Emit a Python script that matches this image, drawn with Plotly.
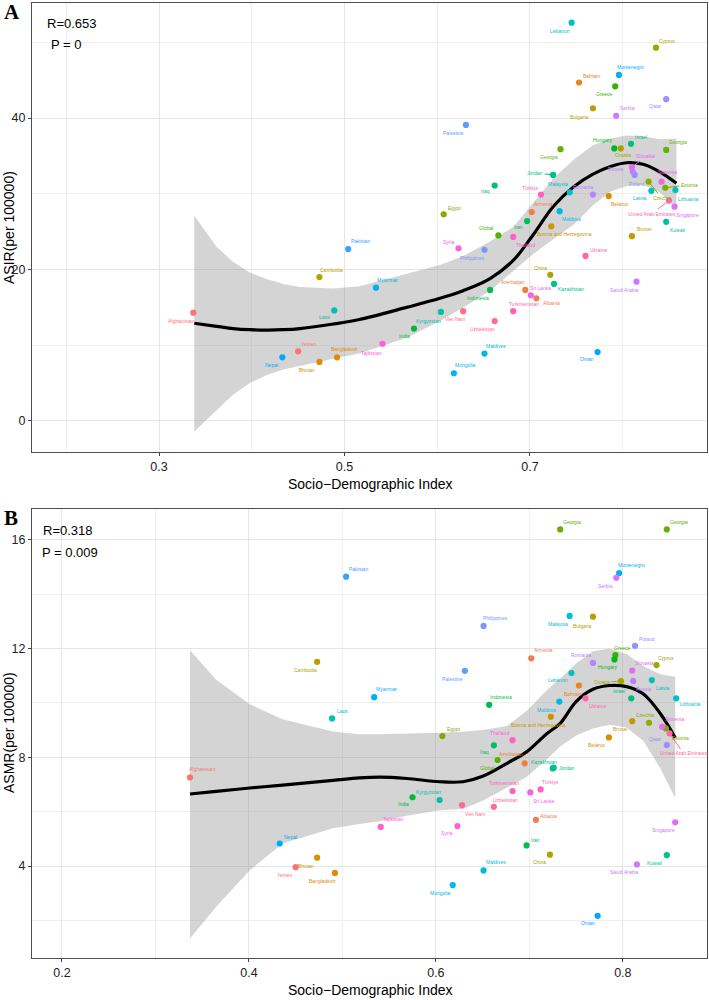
import math
import plotly.graph_objects as go

# ---------------- data ----------------
countries = ["Afghanistan", "Albania", "Armenia", "Azerbaijan", "Bahrain", "Bangladesh", "Belarus",
             "Bhutan", "Bosnia and Herzegovina", "Brunei", "Bulgaria", "Cambodia", "China", "Croatia",
             "Cyprus", "Czechia", "Egypt", "Estonia", "Georgia", "Georgia", "Global", "Greece", "Hungary",
             "India", "Indonesia", "Iran", "Iraq", "Israel", "Jordan", "Kazakhstan", "Kuwait", "Kyrgyzstan",
             "Laos", "Latvia", "Lebanon", "Lithuania", "Malaysia", "Maldives", "Moldova", "Mongolia",
             "Montenegro", "Myanmar", "Nepal", "Oman", "Pakistan", "Palestine", "Philippines", "Poland",
             "Qatar", "Romania", "Russia", "Saudi Arabia", "Serbia", "Singapore", "Slovakia", "Slovenia",
             "Sri Lanka", "Syria", "Tajikistan", "Thailand", "Türkiye", "Turkmenistan", "Ukraine",
             "United Arab Emirates", "Uzbekistan", "Viet Nam", "Yemen"]

sdi = [0.337, 0.707, 0.702, 0.695, 0.753, 0.492, 0.785,
       0.473, 0.723, 0.810, 0.768, 0.473, 0.722, 0.798,
       0.836, 0.828, 0.607, 0.846, 0.733, 0.847, 0.666, 0.792, 0.791,
       0.575, 0.657, 0.697, 0.662, 0.809, 0.725, 0.726, 0.847, 0.604,
       0.489, 0.831, 0.745, 0.857, 0.743, 0.651, 0.732, 0.618,
       0.796, 0.534, 0.433, 0.773, 0.504, 0.631, 0.651, 0.813,
       0.847, 0.768, 0.811, 0.815, 0.793, 0.856, 0.810, 0.842,
       0.701, 0.623, 0.541, 0.682, 0.712, 0.682, 0.760,
       0.850, 0.662, 0.628, 0.450]

asir = [14.3, 16.2, 27.6, 17.3, 44.7, 8.4, 29.7,
        7.8, 25.7, 24.4, 41.3, 19.0, 19.3, 36.0,
        49.3, 31.6, 27.3, 30.8, 35.9, 35.8, 24.5, 44.2, 36.0,
        12.2, 17.3, 26.4, 31.1, 36.6, 32.5, 18.1, 26.3, 14.4,
        14.6, 30.4, 52.6, 30.5, 30.2, 8.9, 27.7, 6.3,
        45.7, 17.6, 8.4, 9.1, 22.7, 39.1, 22.6, 32.5,
        42.5, 29.9, 32.9, 18.4, 40.3, 28.3, 33.5, 31.6,
        16.6, 22.8, 10.2, 24.3, 29.9, 14.5, 21.8,
        29.1, 13.2, 14.5, 9.2]

asmr = [7.26, 5.70, 11.64, 7.78, 10.64, 3.75, 8.73,
        4.31, 9.49, 9.33, 13.17, 11.51, 4.42, 10.80,
        11.39, 9.27, 8.78, 9.06, 16.38, 16.38, 7.90, 11.76, 11.60,
        6.53, 9.93, 4.76, 8.44, 10.17, 7.59, 7.62, 4.40, 6.43,
        9.43, 10.84, 11.10, 10.17, 13.20, 3.84, 10.05, 3.30,
        14.77, 10.21, 4.83, 2.17, 14.64, 11.18, 12.83, 12.10,
        8.45, 11.47, 10.81, 4.06, 14.60, 5.61, 11.19, 9.12,
        6.71, 5.47, 5.44, 8.63, 6.82, 6.76, 10.17,
        8.88, 6.18, 6.24, 3.96]

# loess fit + 95% CI
fitA_x = [0.338, 0.362, 0.380, 0.398, 0.417, 0.434, 0.452, 0.488, 0.516, 0.567, 0.603, 0.628,
          0.657, 0.682, 0.703, 0.725, 0.747, 0.768, 0.787, 0.804, 0.822, 0.840, 0.858]
fitA_y = [12.9, 12.5, 12.2, 12.05, 12.0, 12.05, 12.2, 12.8, 13.4, 15.0, 16.2, 17.2,
          18.8, 21.2, 24.5, 28.3, 30.9, 32.6, 33.6, 34.1, 33.9, 32.9, 31.4]
fitA_hi = [27.1, 23.0, 21.0, 19.6, 18.7, 18.1, 17.7, 17.5, 17.8, 19.5, 20.6, 21.8,
           23.7, 25.6, 28.8, 32.0, 34.5, 36.4, 37.3, 37.7, 37.6, 37.2, 37.3]
fitA_lo = [-1.4, 1.4, 3.5, 5.0, 6.1, 6.8, 7.3, 8.2, 8.9, 11.0, 13.2, 15.0,
           17.2, 19.8, 22.0, 24.0, 25.9, 28.5, 30.3, 31.0, 31.2, 30.2, 28.2]

fitB_x = [0.337, 0.365, 0.401, 0.436, 0.490, 0.518, 0.540, 0.569, 0.604, 0.629, 0.650, 0.676,
          0.697, 0.718, 0.733, 0.750, 0.768, 0.786, 0.804, 0.822, 0.840, 0.856]
fitB_y = [6.65, 6.75, 6.87, 6.98, 7.15, 7.24, 7.27, 7.22, 7.10, 7.10, 7.30, 7.78,
          8.20, 8.85, 9.25, 10.05, 10.50, 10.64, 10.60, 10.33, 9.61, 8.72]
fitB_hi = [11.94, 10.85, 9.95, 9.4, 8.95, 8.85, 8.85, 8.87, 8.90, 8.94, 9.0, 9.15,
           9.7, 10.45, 10.9, 11.45, 11.9, 12.0, 11.8, 11.35, 11.05, 10.96]
fitB_lo = [1.34, 2.5, 3.85, 4.83, 5.39, 5.55, 5.65, 5.85, 6.05, 6.1, 6.4, 6.9,
           7.28, 7.9, 8.4, 8.8, 9.06, 9.2, 9.1, 8.6, 7.6, 6.5]

statsA = ["R=0.653", "P = 0"]
statsB = ["R=0.318", "P = 0.009"]

# ---------------- label placement (pixel offsets: dx right, dy down; L = leader line) ----------------
offA = [(-12, 8), (15, 5), (12, -8), (-12, -8), (12, -7), (7, -8), (11, 8),
        (-12, 8), (13, 8), (12, -7), (-13, 9), (12, -7), (-10, -7), (2, 7),
        (11, -7), (13, 16, "L"), (11, -6), (24, -3, "L"), (-12, 8), (12, -8), (-12, -7), (-11, 8), (-12, -8),
        (-10, 7), (-12, 8), (-9, 6), (-9, 6), (10, -7), (-18, -2, "L"), (17, 5), (12, 8), (-12, 9),
        (-10, 7), (-11, 7), (-12, 8), (13, 9), (-12, -8), (12, -8), (12, 8), (12, -8),
        (12, -8), (12, -8), (-11, 8), (-11, 7), (12, -8), (-12, 8), (-12, 8), (2, 9),
        (-11, 7), (-10, -8), (-17, -3), (-12, 8), (11, -8), (13, 8), (14, -11, "L"), (6, -10),
        (10, -7), (-10, -6), (-11, 9), (12, 8), (-11, -7), (11, -7), (13, -6),
        (-17, 13, "L"), (-12, 8), (-8, 8), (11, -7)]

offB = [(12, -8), (13, -4), (12, -8), (-14, -9), (-6, 8), (-12, 8), (-12, 8),
        (-11, 8), (-12, 8), (-12, 8), (-10, 9), (-12, 8), (-10, 7), (-19, 1, "L"),
        (9, -7), (-4, -8), (11, -7), (15, 10), (12, -7), (12, -7), (-11, 8), (7, -7), (-7, 8),
        (-9, 7), (12, -8), (9, -5), (-9, 7), (-12, -7), (14, 0), (-10, -6), (-12, 8), (-11, -8),
        (10, -7), (11, 8), (-13, 7), (14, 6), (-12, 8), (12, -8), (-13, 8), (-12, 8),
        (12, -8), (12, -8), (11, -7), (-10, 7), (12, -8), (-12, 8), (12, -8), (12, -7),
        (-11, -6), (-12, -8), (11, 8), (-12, 8), (-11, 8), (-12, 8), (12, -8), (12, -8),
        (13, 9), (-10, 7), (13, -8), (-13, -7), (10, -7), (-9, -8), (12, 8),
        (14, 20, "L"), (12, -7), (13, 9), (-11, 8)]


# ---------------- ggplot2 hue palette ----------------
def hcl_to_hex(h, c=100.0, l=65.0):
    hr = math.radians(h)
    u, v = c * math.cos(hr), c * math.sin(hr)
    Y = ((l + 16) / 116) ** 3
    xn, yn, zn = 0.95047, 1.0, 1.08883
    den = xn + 15 * yn + 3 * zn
    un, vn = 4 * xn / den, 9 * yn / den
    up, vp = u / (13 * l) + un, v / (13 * l) + vn
    X = Y * 9 * up / (4 * vp)
    Z = Y * (12 - 3 * up - 20 * vp) / (4 * vp)
    rgb = [3.2404542 * X - 1.5371385 * Y - 0.4985314 * Z,
           -0.9692660 * X + 1.8760108 * Y + 0.0415560 * Z,
           0.0556434 * X - 0.2040259 * Y + 1.0572252 * Z]
    out = []
    for ch in rgb:
        ch = 12.92 * ch if ch <= 0.0031308 else 1.055 * ch ** (1 / 2.4) - 0.055
        out.append(int(round(max(0, min(1, ch)) * 255)))
    return "#%02X%02X%02X" % tuple(out)


levels = []
for c in countries:
    if c not in levels:
        levels.append(c)
n = len(levels)
pal = {lev: hcl_to_hex(15 + i * 360 / n) for i, lev in enumerate(levels)}
colors = [pal[c] for c in countries]

# ---------------- figure ----------------
W, H = 709, 1000
ML, MR, MT, MB = 32, 2, 3, 42
PW, PH = W - ML - MR, H - MT - MB


def px(xp):
    return (xp - ML) / PW


def py(yp):
    return (H - MB - yp) / PH


fig = go.Figure()

panels = [
    ("x", "y", asir, fitA_x, fitA_y, fitA_lo, fitA_hi, offA),
    ("x2", "y2", asmr, fitB_x, fitB_y, fitB_lo, fitB_hi, offB),
]

LABEL_FONT = "Liberation Sans, Arial"
annotations = []
for xa, ya, yvals, fx, fy, flo, fhi, offs in panels:
    fig.add_trace(go.Scatter(x=fx + fx[::-1], y=fhi + flo[::-1], fill="toself",
                             fillcolor="rgba(153,153,153,0.42)", line=dict(width=0),
                             mode="lines", hoverinfo="skip", showlegend=False, xaxis=xa, yaxis=ya))
    fig.add_trace(go.Scatter(x=fx, y=fy, mode="lines", line=dict(color="black", width=3.2, shape="spline"),
                             showlegend=False, xaxis=xa, yaxis=ya))
    fig.add_trace(go.Scatter(x=sdi, y=yvals, mode="markers",
                             marker=dict(color=colors, size=6.2, line=dict(width=0)),
                             text=countries, showlegend=False, xaxis=xa, yaxis=ya))
    for i, name in enumerate(countries):
        o = offs[i]
        common = dict(x=sdi[i], y=yvals[i], xref=xa, yref=ya, text=name,
                      font=dict(size=5, color=colors[i], family=LABEL_FONT))
        if len(o) == 3:
            annotations.append(dict(**common, showarrow=True, arrowhead=0, arrowwidth=1,
                                    arrowcolor=colors[i], ax=o[0], ay=o[1], standoff=2))
        else:
            annotations.append(dict(**common, showarrow=False, xanchor="center", yanchor="middle",
                                    xshift=o[0], yshift=-o[1]))

MAIN_FONT = "Liberation Sans, Arial"


def paper_text(xp, yp, txt, size, family=MAIN_FONT, xanchor="center", angle=0, color="black"):
    return dict(x=px(xp), y=py(yp), xref="paper", yref="paper", text=txt, showarrow=False,
                xanchor=xanchor, yanchor="middle", textangle=angle,
                font=dict(size=size, family=family, color=color))


# panel letters
annotations.append(paper_text(11.5, 12, "<b>A</b>", 21, family="Liberation Serif, Times New Roman"))
annotations.append(paper_text(10.5, 518, "<b>B</b>", 21, family="Liberation Serif, Times New Roman"))
# stats text
for txt, (lx, ly) in zip(statsA, [(45, 24), (49, 44)]):
    annotations.append(paper_text(lx, ly, txt, 13, xanchor="left"))
for txt, (lx, ly) in zip(statsB, [(41, 530), (40, 552)]):
    annotations.append(paper_text(lx, ly, txt, 13, xanchor="left"))
# axis titles
annotations.append(paper_text(370, 484, "Socio\u2212Demographic Index", 14))
annotations.append(paper_text(370, 990, "Socio\u2212Demographic Index", 14))
annotations.append(paper_text(9, 228, "ASIR(per 100000)", 14, angle=-90))
annotations.append(paper_text(9, 733, "ASMR(per 100000)", 14, angle=-90))

ax_common = dict(showline=True, mirror=True, linecolor="#4D4D4D", linewidth=1.1,
                 ticks="outside", ticklen=3, tickcolor="#444444", tickwidth=1,
                 showgrid=True, gridcolor="#E6E6E6", gridwidth=1.1, zeroline=False,
                 tickfont=dict(size=12.5, family=MAIN_FONT, color="#222222"))

fig.update_layout(
    width=W, height=H, margin=dict(l=ML, r=MR, t=MT, b=MB),
    paper_bgcolor="white", plot_bgcolor="white", showlegend=False,
    annotations=annotations,
    xaxis=dict(**ax_common, domain=[0, 1], range=[0.163, 0.891], tick0=0.3, dtick=0.2, anchor="y",
               minor=dict(dtick=0.1, showgrid=True, gridcolor="#EFEFEF", gridwidth=0.7)),
    yaxis=dict(**ax_common, domain=[py(452), 1], range=[-4.1, 55.2], tick0=0, dtick=20, anchor="x",
               minor=dict(dtick=10, showgrid=True, gridcolor="#EFEFEF", gridwidth=0.7)),
    xaxis2=dict(**ax_common, domain=[0, 1], range=[0.168, 0.890], tick0=0.2, dtick=0.2, anchor="y2",
                minor=dict(dtick=0.1, showgrid=True, gridcolor="#EFEFEF", gridwidth=0.7)),
    yaxis2=dict(**ax_common, domain=[0, py(509)], range=[0.62, 17.13], tick0=0, dtick=4, anchor="x2",
                minor=dict(dtick=2, showgrid=True, gridcolor="#EFEFEF", gridwidth=0.7)),
)

fig.write_html("out.html")
